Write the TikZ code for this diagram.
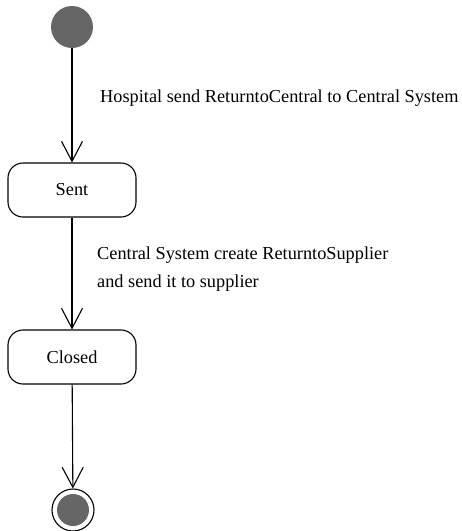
\documentclass[tikz,border=0pt]{standalone}
\usepackage{fontspec}
\setmainfont{Liberation Serif}
\usetikzlibrary{arrows.meta}

\tikzset{
  state/.style={draw, rounded corners=15pt, minimum width=128pt, minimum height=54pt, line width=1.1pt},
  startstate/.style={circle, fill=black!60, minimum size=42pt, inner sep=0pt},
  endstate/.style={circle, draw, line width=1.1pt, minimum size=42pt, inner sep=0pt},
  trans/.style={draw, line width=1.1pt, -{Straight Barb[length=20pt,width=21pt,line width=1.1pt]}},
  guard/.style={anchor=west, inner sep=0pt, font=\fontsize{18.3}{22}\selectfont}
}

\begin{document}
\begin{tikzpicture}[x=1pt,y=-1pt]

  \useasboundingbox (0,0) rectangle (462,531);

  % start and end points
  \node[startstate] (start) at (72,27) {};
  \node[endstate] (finish) at (73,510) {};
  \fill[black!60] (finish) circle (16pt);

  % states
  \node[state, font=\fontsize{18.3}{22}\selectfont] (sent) at (72,190) {Sent};
  \node[state, font=\fontsize{18.3}{22}\selectfont] (closed) at (72,357) {Closed};

  % transitions
  \draw[trans] (start) -- (sent);
  \draw[trans] (sent) -- (closed);
  \draw[trans] (closed) -- (finish);

  % transition texts
  \node[guard] (t1) at (100,98) {Hospital send ReturntoCentral to Central System};
  \node[guard] (t2) at (97,255) {Central System create ReturntoSupplier};
  \node[guard] (t3) at (97,283) {and send it to supplier};

\end{tikzpicture}
\end{document}
